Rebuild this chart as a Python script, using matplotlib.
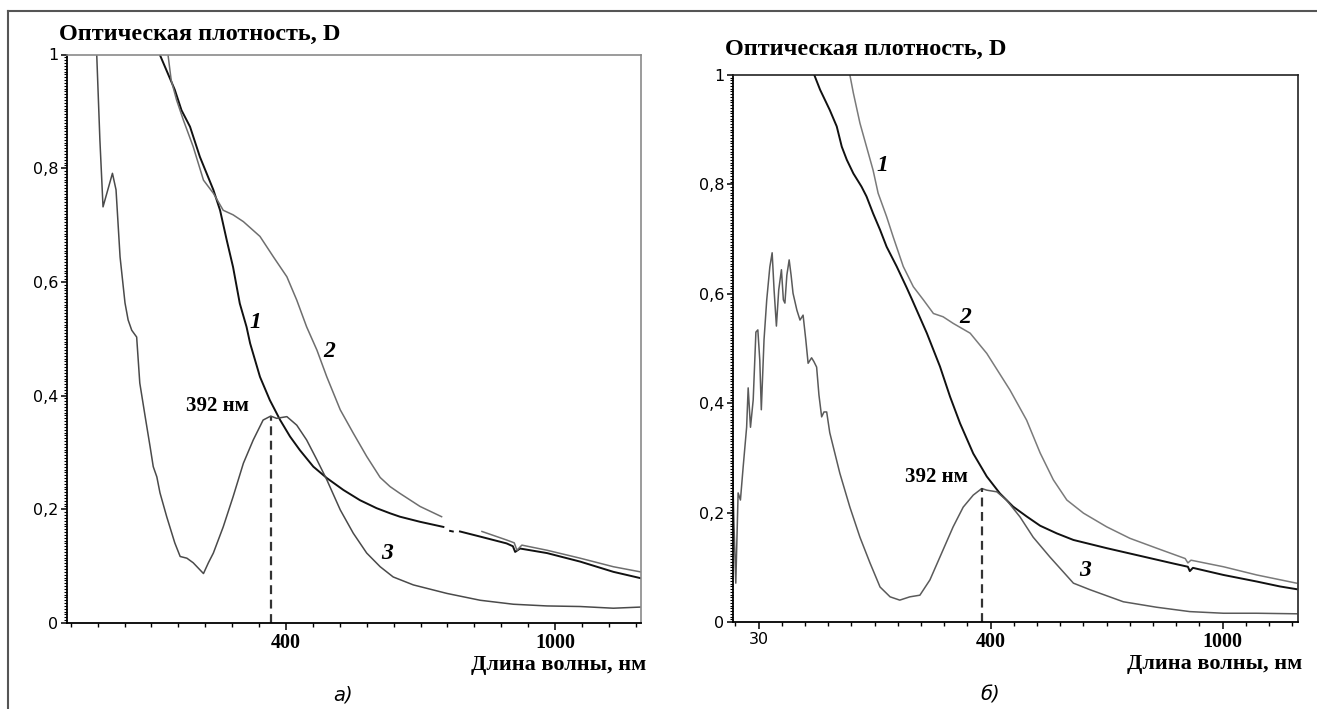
import numpy as np
import matplotlib
matplotlib.use('Agg')
import matplotlib.pyplot as plt
from matplotlib.ticker import FixedLocator, FuncFormatter
from matplotlib.lines import Line2D

nan = np.nan

# panel a) spectra (x in axis units, y = optical density)
a1_x = [112, 119, 152, 167, 186, 208, 223, 238, 253, 268, 282, 297, 312, 320, 342, 364, 387, 409, 431, 461,
        491, 528, 565, 602, 632, 654, 699, 751, nan, 766, 772, nan, 788, 833, 892, 906, 911, 922, 982, 1056,
        1130, 1190]
a1_y = [1.017, .999, .938, .902, .873, .820, .791, .762, .726, .673, .626, .562, .521, .492, .433, .392, .357, .328, .304, .275,
        .255, .234, .216, .202, .193, .187, .178, .169, nan, .162, .161, nan, .161, .152, .140, .135, .125, .131, .123, .108,
        .090, .079]
a2_x = [136, 137, 144, 156, 171, 193, 216, 238, 260, 282, 305, 342, 372, 402, 424, 446, 469, 491, 521, 550,
        580, 610, 632, 654, 699, 747, nan, 837, 892, 909, 915, 926, 982, 1056, 1130, 1190]
a2_y = [1.017, .999, .955, .920, .885, .838, .779, .756, .726, .718, .706, .680, .644, .609, .568, .521, .480, .433, .375, .334,
        .293, .256, .240, .228, .205, .187, nan, .161, .146, .141, .128, .137, .128, .114, .099, .090]
a3_x = [-27, -22, -15, -8, 13, 21, 30, 41, 48, 56, 67, 74, 86, 97, 104, 112, 119, 134, 152, 164,
        179, 193, 216, 227, 238, 260, 282, 305, 327, 349, 366, 379, 402, 424, 446, 469, 491, 521, 550, 580,
        610, 639, 684, 759, 833, 907, 982, 1056, 1130, 1190]
a3_y = [1.02, .999, .850, .732, .791, .762, .644, .563, .533, .515, .503, .422, .363, .310, .275, .257, .229, .187, .141, .117,
        .114, .106, .087, .106, .123, .169, .222, .281, .322, .357, .364, .360, .363, .348, .322, .287, .252, .199, .158, .123,
        .099, .081, .067, .052, .040, .033, .030, .029, .026, .028]

# panel б) spectra
b1_x = [-62, -56, -41, -16, 2, 15, 28, 45, 66, 79, 96, 114, 131, 157, 183, 197, 235, 269, 295, 321,
        355, 390, 424, 458, 493, 528, 571, 614, 700, 786, 872, 910, 915, 923, 1002, 1088, 1148, 1191]
b1_y = [1.018, 1.0, .973, .936, .906, .869, .845, .820, .796, .778, .747, .717, .686, .650, .611, .589, .528, .467, .412, .363,
        .308, .266, .235, .211, .193, .176, .162, .150, .135, .121, .107, .101, .093, .099, .086, .074, .065, .060]
b2_x = [34, 36, 45, 62, 79, 96, 109, 131, 148, 174, 200, 226, 252, 277, 303, 347, 390, 450, 493, 528,
        562, 597, 640, 700, 760, 829, 903, 910, 918, 1002, 1088, 1191]
b2_y = [1.018, 1.0, .967, .912, .869, .826, .784, .741, .704, .650, .613, .589, .564, .558, .546, .528, .491, .424, .369, .309,
        .260, .223, .199, .174, .153, .135, .116, .108, .113, .101, .086, .071]
b3_x = [-268, -264, -259, -253, -247, -240, -231, -227, -221, -214, -207, -202, -197, -193, -186, -179, -171, -165, -160, -154,
        -148, -141, -136, -132, -127, -121, -116, -111, -101, -93, -85, -78, -72, -63, -57, -50, -44, -37, -31, -24,
        -16, 10, 36, 62, 88, 114, 140, 165, 191, 217, 243, 269, 303, 329, 355, 377, 390, 416, 441, 476,
        510, 553, 614, 657, 743, 829, 915, 1002, 1088, 1191]
b3_y = [.305, .186, .071, .236, .223, .283, .356, .428, .356, .406, .530, .534, .479, .388, .516, .589, .649, .675, .607, .541,
        .607, .644, .589, .583, .634, .662, .634, .601, .570, .552, .561, .516, .473, .483, .476, .466, .415, .375, .384, .384,
        .346, .272, .210, .155, .108, .064, .046, .040, .046, .049, .077, .119, .174, .210, .232, .244, .241, .238, .223, .192,
        .155, .119, .071, .059, .037, .027, .019, .016, .016, .015]

peak_x = [366, 377]
peak_y = [0.362, 0.245]
peak_label = '392 нм'

ylabel = 'Оптическая плотность, D'
xlabel = 'Длина волны, нм'
yticks = [0, 0.2, 0.4, 0.6, 0.8, 1.0]
a_xticks = [400, 1000]
a_xticklabels = ['400', '1000']
b_xticks = [-200, 400, 1000]
b_xticklabels = ['30', '400', '1000']

serif = 'Liberation Serif'

fig = plt.figure(figsize=(13.17, 7.09), dpi=100)
W, H = 1317, 709

def px_axes(l, t, r, b):
    return fig.add_axes([l / W, 1 - b / H, (r - l) / W, (b - t) / H])

ax_a = px_axes(66.7, 54.5, 640.7, 623)
ax_b = px_axes(732.7, 75, 1298.3, 622)

def style_axes(ax, xlim, frame_col):
    ax.set_xlim(*xlim)
    ax.set_ylim(0, 1)
    for s in ['left', 'bottom']:
        ax.spines[s].set_color('black')
        ax.spines[s].set_linewidth(1.3)
    for s in ['top', 'right']:
        ax.spines[s].set_color(frame_col)
        ax.spines[s].set_linewidth(1.2)
    ax.yaxis.set_major_locator(FixedLocator(yticks))
    ax.yaxis.set_minor_locator(FixedLocator(np.arange(0, 1.0001, 0.005)))
    ax.xaxis.set_minor_locator(FixedLocator(np.arange(400 - 60 * 12, 1200, 60)))
    ax.yaxis.set_major_formatter(FuncFormatter(lambda v, p: ('%g' % v).replace('.', ',')))
    ax.tick_params(axis='y', which='major', length=4, width=1.1, pad=2, labelsize=11.5)
    ax.tick_params(axis='y', which='minor', length=2, width=0.8)
    ax.tick_params(axis='x', which='major', length=5, width=1.1, pad=2)
    ax.tick_params(axis='x', which='minor', length=3, width=1.0)
    for t in ax.get_yticklabels():
        t.set_family('DejaVu Sans')

def draw_panel(ax, c1, c2, c3, c3_col, c2_col, k):
    ax.plot(c1[0], c1[1], color='#111111', lw=1.4)
    ax.plot(c2[0], c2[1], color=c2_col, lw=1.1)
    ax.plot(c3[0], c3[1], color=c3_col, lw=1.1)
    ax.plot([peak_x[k], peak_x[k]], [0, peak_y[k]], color='#333333', lw=1.6, ls=(0, (4, 2.5)))

style_axes(ax_a, (-89, 1191), '#8a8a8a')
style_axes(ax_b, (-267, 1195.5), '#222222')
draw_panel(ax_a, (a1_x, a1_y), (a2_x, a2_y), (a3_x, a3_y), '#4a4a4a', '#6e6e6e', 0)
draw_panel(ax_b, (b1_x, b1_y), (b2_x, b2_y), (b3_x, b3_y), '#5a5a5a', '#7a7a7a', 1)

ax_a.set_xticks(a_xticks)
ax_a.set_xticklabels(a_xticklabels, family=serif, fontweight='bold', fontsize=14.5)
ax_b.set_xticks(b_xticks)
ax_b.set_xticklabels(b_xticklabels, family=serif, fontweight='bold', fontsize=14.5)
lab30 = ax_b.get_xticklabels()[0]
lab30.set_family('DejaVu Sans')
lab30.set_fontweight('normal')
lab30.set_fontsize(11.5)

# curve numbers
num_style = dict(family=serif, fontweight='bold', style='italic', fontsize=17, ha='center', va='center')
ax_a.text(331, 0.528, '1', **num_style)
ax_a.text(496, 0.477, '2', **num_style)
ax_a.text(625, 0.123, '3', **num_style)
ax_b.text(121, 0.835, '1', **num_style)
ax_b.text(334, 0.556, '2', **num_style)
ax_b.text(644, 0.095, '3', **num_style)

pk_style = dict(family=serif, fontweight='bold', fontsize=15, ha='center', va='center')
ax_a.text(248, 0.382, peak_label, **pk_style)
ax_b.text(261, 0.265, peak_label, **pk_style)

# axis titles
t_style = dict(family=serif, fontweight='bold', fontsize=17.5, va='baseline', ha='left')
fig.text(59 / W, 1 - 40 / H, ylabel, **t_style)
fig.text(725 / W, 1 - 55 / H, ylabel, **t_style)
x_style = dict(family=serif, fontweight='bold', fontsize=16, va='baseline', ha='right')
fig.text(646 / W, 1 - 670 / H, xlabel, **x_style)
fig.text(1302 / W, 1 - 669 / H, xlabel, **x_style)

# panel captions
c_style = dict(family='DejaVu Sans', style='italic', fontsize=14, ha='center', va='center')
fig.text(343 / W, 1 - 695 / H, 'а)', **c_style)
fig.text(990 / W, 1 - 695 / H, 'б)', **c_style)

# outer frame (top and left edges)
fig.add_artist(Line2D([8 / W, 1], [1 - 11 / H, 1 - 11 / H], transform=fig.transFigure, color='#555555', lw=1.5))
fig.add_artist(Line2D([8 / W, 8 / W], [0, 1 - 11 / H], transform=fig.transFigure, color='#555555', lw=1.5))

fig.savefig('out.png', dpi=100)
